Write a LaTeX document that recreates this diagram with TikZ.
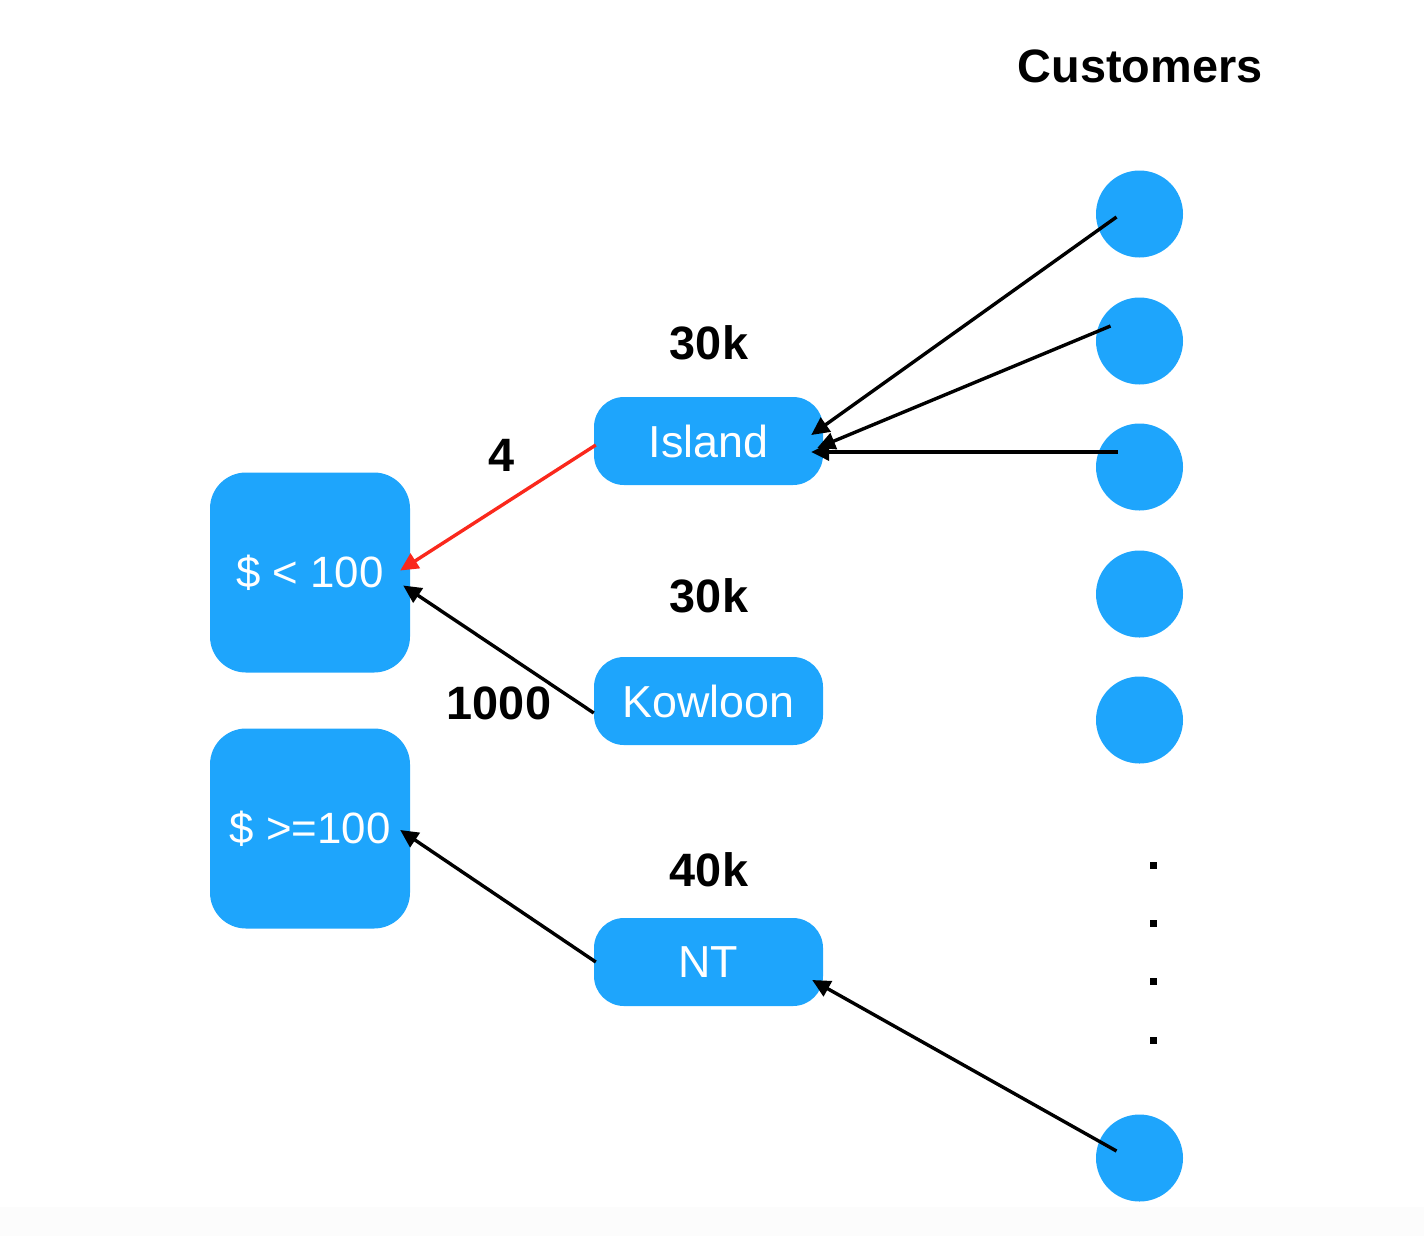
\documentclass[tikz,border=0pt]{standalone}
\usepackage{fontspec}
\setmainfont{Liberation Sans}
\usetikzlibrary{arrows.meta,calc}
\definecolor{nodeblue}{RGB}{30,165,252}
\definecolor{edgered}{RGB}{250,40,28}
\definecolor{stripgray}{RGB}{252,252,252}
\begin{document}
\begin{tikzpicture}[x=1bp,y=-1bp,
  region/.style={fill=nodeblue,rounded corners=30bp,minimum width=229bp,minimum height=88bp,text=white,font=\fontsize{45}{54}\selectfont,inner sep=0pt},
  bucket/.style={fill=nodeblue,rounded corners=36bp,minimum width=200bp,minimum height=200bp,text=white,font=\fontsize{44}{52}\selectfont,inner sep=0pt},
  customer/.style={circle,fill=nodeblue,minimum size=87bp,inner sep=0pt},
  count/.style={font=\fontsize{47}{56}\selectfont\bfseries,inner sep=0pt},
  flow/.style={line width=3.4bp,-{Triangle[length=18bp,width=17bp]}},
  dotmark/.style={fill=black,minimum size=7bp,inner sep=0pt}
]
\useasboundingbox (0,0) rectangle (1424,1236);
\fill[stripgray] (0,1207) rectangle (1424,1236);

% buckets
\node[bucket] (lt) at (310,572.5) {\$ < 100};
\node[bucket] (ge) at (310,828.5) {\$ >=100};

% regions
\node[region] (island) at (708.5,441) {Island};
\node[region] (kowloon) at (708.5,701) {Kowloon};
\node[region] (nt) at (708.5,962) {NT};

% customers
\node[customer] (c1) at (1139.5,214) {};
\node[customer] (c2) at (1139.5,341) {};
\node[customer] (c3) at (1139.5,467) {};
\node[customer] (c4) at (1139.5,594) {};
\node[customer] (c5) at (1139.5,720) {};
\node[customer] (c6) at (1139.5,1158) {};

\node[dotmark] (d1) at (1153.5,865.5) {};
\node[dotmark] (d2) at (1153.5,923.5) {};
\node[dotmark] (d3) at (1153.5,981.5) {};
\node[dotmark] (d4) at (1153.5,1040.5) {};

% labels
\node[count] (title) at (1140,66) {Customers};
\node[count] (n1) at (709,343) {30k};
\node[count] (n2) at (709,596) {30k};
\node[count] (n3) at (709,870) {40k};
\node[count] (e1) at (502,455) {4};
\node[count] (e2) at (499,703) {1000};

% connectors
\draw[flow,draw=edgered,-{Triangle[length=18bp,width=17bp,fill=edgered]}] ($(island.west)+(2,4)$) -- ($(lt.east)+(-10,-2)$);
\draw[flow] ($(kowloon.west)+(0,12)$) -- ($(lt.east)+(-7,13)$);
\draw[flow] ($(nt.west)+(2,0)$) -- ($(ge.east)+(-10,1.5)$);
\draw[flow] ($(c1)+(-23,3)$) -- ($(island.east)+(-12,-6)$);
\draw[flow] ($(c2)+(-29,-15)$) -- ($(island.east)+(-6,7)$);
\draw[flow] ($(c3)+(-22,-15)$) -- ($(island.east)+(-12,11)$);
\draw[flow] ($(c6)+(-23,-7)$) -- ($(nt.east)+(-11,18)$);
\end{tikzpicture}
\end{document}
